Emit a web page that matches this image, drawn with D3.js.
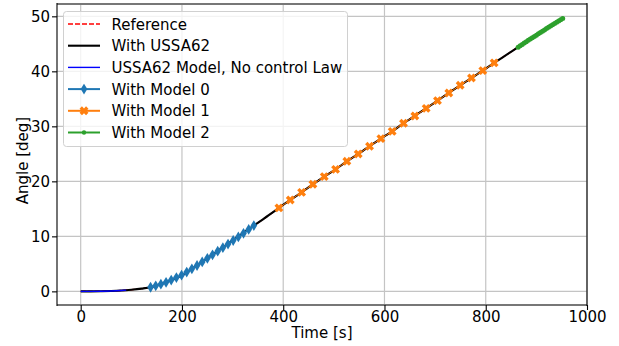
<!DOCTYPE html>
<html><head><meta charset="utf-8">
<script src="https://cdn.jsdelivr.net/npm/d3@7"></script>
<style>body{margin:0;background:#fff}svg{display:block}text{font-family:"DejaVu Sans",sans-serif}</style>
</head><body><svg id="c" width="619" height="346"></svg>
<script>
// ---- data ----
const xTicks = [0, 200, 400, 600, 800, 1000];
const yTicks = [0, 10, 20, 30, 40, 50];
const legendLabels = ["Reference", "With USSA62", "USSA62 Model, No control Law", "With Model 0", "With Model 1", "With Model 2"];

const ussaTime  = [0, 20, 40, 60, 80, 100, 120, 138, 160, 180, 200, 220, 240, 260, 280, 300, 320, 342, 360, 380, 391.5, 413.9, 436.3, 458.6, 481.0, 503.4, 525.7, 548.1, 570.5, 592.9, 615.2, 637.6, 660.0, 682.3, 704.7, 727.1, 749.5, 771.8, 794.2, 816.6, 840, 864, 900, 930, 952];
const ussaAngle = [0, 0.0, 0.02, 0.06, 0.15, 0.3, 0.5, 0.75, 1.4, 2.05, 2.95, 4.15, 5.35, 6.65, 7.95, 9.25, 10.55, 11.95, 13.1, 14.4, 15.17, 16.62, 18.0, 19.46, 20.86, 22.18, 23.64, 24.98, 26.37, 27.77, 29.09, 30.57, 31.89, 33.27, 34.67, 36.07, 37.46, 38.8, 40.13, 41.53, 42.95, 44.4, 46.58, 48.35, 49.6];

const noCtrlTime  = [0, 20, 40, 60, 80, 90];
const noCtrlAngle = [0, 0.0, 0.02, 0.06, 0.15, 0.22];

const m0Time  = [138, 148.2, 158.4, 168.6, 178.8, 189, 199.2, 209.4, 219.6, 229.8, 240, 250.2, 260.4, 270.6, 280.8, 291, 301.2, 311.4, 321.6, 331.8, 342];
const m0Angle = [0.75, 1.0, 1.3, 1.65, 2.05, 2.5, 2.95, 3.5, 4.1, 4.7, 5.35, 6.0, 6.65, 7.3, 7.95, 8.6, 9.25, 9.9, 10.55, 11.25, 11.95];

const m1Time  = [391.5, 413.9, 436.3, 458.6, 481.0, 503.4, 525.7, 548.1, 570.5, 592.9, 615.2, 637.6, 660.0, 682.3, 704.7, 727.1, 749.5, 771.8, 794.2, 816.6];
const m1Angle = [15.17, 16.62, 18.0, 19.46, 20.86, 22.18, 23.64, 24.98, 26.37, 27.77, 29.09, 30.57, 31.89, 33.27, 34.67, 36.07, 37.46, 38.8, 40.13, 41.53];

const m2Time  = [864, 868, 872, 876, 880, 884, 888, 892, 896, 900, 904, 908, 912, 916, 920, 924, 928, 932, 936, 940, 944, 948, 952];
const m2Angle = [44.4, 44.65, 44.9, 45.15, 45.4, 45.63, 45.87, 46.1, 46.35, 46.58, 46.82, 47.05, 47.3, 47.53, 47.77, 48.0, 48.24, 48.47, 48.7, 48.93, 49.16, 49.38, 49.6];

// ---- layout ----
const L = 57, R = 587, T = 4, B = 305;
const FS = 15;
const svg = d3.select("#c");
const x = d3.scaleLinear().domain([-46.8, 1000]).range([L, R]);
const y = d3.scaleLinear().domain([-2.48, 52.24]).range([B, T]);

const C0 = "#1f77b4", C1 = "#ff7f0e", C2 = "#2ca02c";

// grid
const g = svg.append("g");
g.selectAll(".gx").data(xTicks).join("line")
  .attr("x1", d => x(d)).attr("x2", d => x(d)).attr("y1", T).attr("y2", B)
  .attr("stroke", "#c4c4c4").attr("stroke-width", 1.2);
g.selectAll(".gy").data(yTicks).join("line")
  .attr("y1", d => y(d)).attr("y2", d => y(d)).attr("x1", L).attr("x2", R)
  .attr("stroke", "#c4c4c4").attr("stroke-width", 1.2);

const zip = (a, b) => a.map((t, i) => [t, b[i]]);
const line = d3.line().x(d => x(d[0])).y(d => y(d[1])).curve(d3.curveMonotoneX);

const plot = svg.append("g");
plot.append("path").attr("d", line(zip(ussaTime, ussaAngle))).attr("fill", "none")
  .attr("stroke", "#ff0000").attr("stroke-width", 1.4).attr("stroke-dasharray", "5,2");
plot.append("path").attr("d", line(zip(ussaTime, ussaAngle))).attr("fill", "none")
  .attr("stroke", "#000").attr("stroke-width", 2.1);
plot.append("path").attr("d", line(zip(noCtrlTime, noCtrlAngle))).attr("fill", "none")
  .attr("stroke", "#0000ff").attr("stroke-width", 1.4);

const diamond = "M0,-5.4L3.3,0L0,5.4L-3.3,0Z";
const xMark = (() => {
  const a = 4.6, w = 1.7;
  const pts = [[w,-a],[w,-w],[a,-w],[a,w],[w,w],[w,a],[-w,a],[-w,w],[-a,w],[-a,-w],[-w,-w],[-w,-a]];
  const c = Math.SQRT1_2;
  const r = pts.map(([px, py]) => [(px - py) * c, (px + py) * c].map(v => v.toFixed(2)));
  return "M" + r.map(p => p.join(",")).join("L") + "Z";
})();

plot.append("path").attr("d", line(zip(m0Time, m0Angle))).attr("fill", "none").attr("stroke", C0).attr("stroke-width", 2);
plot.selectAll(".m0").data(zip(m0Time, m0Angle)).join("path")
  .attr("d", diamond).attr("transform", d => `translate(${x(d[0])},${y(d[1])})`).attr("fill", C0);
plot.append("path").attr("d", line(zip(m1Time, m1Angle))).attr("fill", "none").attr("stroke", C1).attr("stroke-width", 1);
plot.selectAll(".m1").data(zip(m1Time, m1Angle)).join("path")
  .attr("d", xMark).attr("transform", d => `translate(${x(d[0])},${y(d[1])})`).attr("fill", C1);
plot.append("path").attr("d", line(zip(m2Time, m2Angle))).attr("fill", "none").attr("stroke", C2).attr("stroke-width", 3);
plot.selectAll(".m2").data(zip(m2Time, m2Angle)).join("circle")
  .attr("cx", d => x(d[0])).attr("cy", d => y(d[1])).attr("r", 2.5).attr("fill", C2);

// spines
svg.append("line").attr("x1", L).attr("x2", R).attr("y1", T).attr("y2", T).attr("stroke", "#777").attr("stroke-width", 1.8);
svg.append("line").attr("x1", L).attr("x2", R).attr("y1", B).attr("y2", B).attr("stroke", "#777").attr("stroke-width", 1.8);
svg.append("line").attr("x1", L).attr("x2", L).attr("y1", T - 1).attr("y2", B + 1).attr("stroke", "#000").attr("stroke-width", 1.1);
svg.append("line").attr("x1", R).attr("x2", R).attr("y1", T - 1).attr("y2", B + 1).attr("stroke", "#000").attr("stroke-width", 1.1);

// axes
const xAxis = d3.axisBottom(x).tickValues(xTicks).tickSize(5).tickPadding(1).tickFormat(d3.format("d"));
const yAxis = d3.axisLeft(y).tickValues(yTicks).tickSize(5).tickPadding(2).tickFormat(d3.format("d"));
const gx = svg.append("g").attr("transform", `translate(0,${B})`).call(xAxis);
const gy = svg.append("g").attr("transform", `translate(${L},0)`).call(yAxis);
[gx, gy].forEach(a => {
  a.select(".domain").remove();
  a.selectAll("line").attr("stroke", "#000").attr("stroke-width", 1.1);
  a.selectAll("text").attr("font-size", FS).attr("fill", "#000").attr("font-family", "DejaVu Sans");
});

svg.append("text").attr("x", (L + R) / 2).attr("y", 338).attr("text-anchor", "middle")
  .attr("font-size", FS).text("Time [s]");
svg.append("text").attr("transform", `translate(27.5,${(T + B) / 2 + 6}) rotate(-90)`).attr("text-anchor", "middle")
  .attr("font-size", FS).text("Angle [deg]");

// legend
const lg = svg.append("g");
lg.append("rect").attr("x", 63.5).attr("y", 11.5).attr("width", 284).attr("height", 135).attr("rx", 3)
  .attr("fill", "#fff").attr("fill-opacity", 0.8).attr("stroke", "#d0d0d0").attr("stroke-width", 1);
const rowY = i => 24 + i * 21.7;
const hx1 = 68, hx2 = 100, hm = 84;
const styles = [
  {c: "#ff0000", w: 1.4, dash: "5,2"},
  {c: "#000", w: 2.1},
  {c: "#0000ff", w: 1.4},
  {c: C0, w: 2, m: "d"},
  {c: C1, w: 2, m: "x"},
  {c: C2, w: 2, m: "o"}
];
legendLabels.forEach((lab, i) => {
  const s = styles[i], yy = rowY(i);
  lg.append("line").attr("x1", hx1).attr("x2", hx2).attr("y1", yy).attr("y2", yy)
    .attr("stroke", s.c).attr("stroke-width", s.w).attr("stroke-dasharray", s.dash || null);
  if (s.m === "d") lg.append("path").attr("d", diamond).attr("transform", `translate(${hm},${yy})`).attr("fill", s.c);
  if (s.m === "x") lg.append("path").attr("d", xMark).attr("transform", `translate(${hm},${yy})`).attr("fill", s.c);
  if (s.m === "o") lg.append("circle").attr("cx", hm).attr("cy", yy).attr("r", 2.2).attr("fill", s.c);
  lg.append("text").attr("x", 111.5).attr("y", yy + 5.5).attr("font-size", FS).text(lab);
});
</script></body></html>
